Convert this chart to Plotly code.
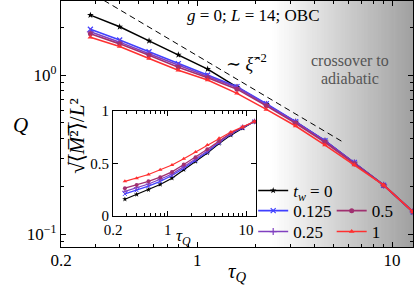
import numpy as np
import plotly.graph_objects as go

# ---------------- data ----------------
tau_Q = [0.283, 0.4, 0.566, 0.8, 1.131, 1.6, 2.263, 3.2, 4.525, 6.4, 9.05, 12.8]

labels = ["<i>t<sub>w</sub></i> = 0", "0.125", "0.25", "0.5", "1"]
colors = ["#000000", "#4040ff", "#8040c0", "#a03070", "#ff3030"]
symbols = ["star", "x-thin-open", "cross-thin-open", "circle", "triangle-up"]

Q_tw0 = [2.38, 2.01, 1.64, 1.34, 1.09, 0.84, 0.657, 0.508, 0.386, 0.281, 0.203, 0.138]
Q_tw0125 = [1.94, 1.66, 1.40, 1.18, 1.00, 0.845, 0.66, 0.51, 0.387, 0.282, 0.203, 0.138]
Q_tw025 = [1.87, 1.61, 1.36, 1.15, 0.98, 0.835, 0.652, 0.505, 0.384, 0.280, 0.203, 0.138]
Q_tw05 = [1.82, 1.57, 1.33, 1.12, 0.96, 0.815, 0.640, 0.497, 0.378, 0.277, 0.203, 0.138]
Q_tw1 = [1.73, 1.51, 1.27, 1.07, 0.93, 0.767, 0.608, 0.478, 0.363, 0.272, 0.203, 0.138]

M_tw0 = [0.16, 0.205, 0.25, 0.30, 0.36, 0.44, 0.52, 0.60, 0.69, 0.77, 0.835, 0.90]
M_tw0125 = [0.21, 0.245, 0.285, 0.33, 0.385, 0.455, 0.53, 0.61, 0.70, 0.78, 0.84, 0.90]
M_tw025 = [0.235, 0.27, 0.305, 0.35, 0.40, 0.47, 0.545, 0.62, 0.705, 0.785, 0.845, 0.90]
M_tw05 = [0.265, 0.295, 0.33, 0.37, 0.42, 0.49, 0.56, 0.635, 0.715, 0.79, 0.845, 0.90]
M_tw1 = [0.33, 0.36, 0.395, 0.44, 0.485, 0.545, 0.61, 0.675, 0.74, 0.80, 0.85, 0.90]

guide_tau = [0.30, 5.6]
guide_Q = [3.17, 0.379]

main_xtickvals = [0.2, 1, 10]
main_xticktext = ["0.2", "1", "10"]
main_ytickvals = [0.1, 1]
main_yticktext = ["10<sup>−1</sup>", "10<sup>0</sup>"]
inset_xtickvals = [0.2, 1, 10]
inset_xticktext = ["0.2", "1", "10"]
inset_ytickvals = [0, 0.5, 1]
inset_yticktext = ["0", "0.5", "1"]

Q_series = [Q_tw0, Q_tw0125, Q_tw025, Q_tw05, Q_tw1]
M_series = [M_tw0, M_tw0125, M_tw025, M_tw05, M_tw1]

FONT = "'Liberation Serif', 'DejaVu Serif', serif"

# legend placement: one legend per entry (column x, row centre y in paper units)
legend_names = ["legend", "legend2", "legend3", "legend4", "legend5"]
legend_pos = [(0.546, 0.228), (0.546, 0.146), (0.546, 0.061), (0.769, 0.146), (0.769, 0.061)]

# ---------------- figure ----------------
fig = go.Figure()

fig.add_trace(go.Scatter(x=guide_tau, y=guide_Q, mode="lines",
                         line=dict(color="black", width=1, dash="6px,4px"),
                         showlegend=False, xaxis="x", yaxis="y"))

for i in range(5):
    fig.add_trace(go.Scatter(
        x=tau_Q, y=Q_series[i], mode="lines+markers", name=labels[i],
        line=dict(color=colors[i], width=1.6),
        marker=dict(symbol=symbols[i], size=5, color=colors[i],
                    line=dict(color=colors[i], width=1.2 if i in (1, 2) else 0)),
        legend=legend_names[i],
        xaxis="x", yaxis="y"))

for i in range(5):
    fig.add_trace(go.Scatter(
        x=tau_Q, y=M_series[i], mode="lines+markers", showlegend=False,
        line=dict(color=colors[i], width=1.2),
        marker=dict(symbol=symbols[i], size=4, color=colors[i],
                    line=dict(color=colors[i], width=1 if i in (1, 2) else 0)),
        xaxis="x2", yaxis="y2"))

# gradient background ("crossover to adiabatic")
n_strips = 60
g0, g1 = 0.60, 1.0
for k in range(n_strips):
    f = (k + 0.5) / n_strips
    c = int(round(255 - f * (255 - 160)))
    fig.add_shape(type="rect", xref="paper", yref="paper",
                  x0=g0 + (g1 - g0) * k / n_strips, x1=g0 + (g1 - g0) * (k + 1) / n_strips + 0.002,
                  y0=0, y1=1, fillcolor=f"rgb({c},{c},{c})", line=dict(width=0), layer="below")

minor_log = [v * 10 ** e for e in (-2, -1, 0, 1) for v in range(2, 10)]

axis_base = dict(showline=True, linecolor="black", linewidth=1.3, mirror="allticks",
                 ticks="inside", ticklen=5, tickcolor="black", showgrid=False, zeroline=False,
                 automargin=False)

layout_legends = {}
for name, (lx, ly) in zip(legend_names, legend_pos):
    layout_legends[name] = dict(x=lx, y=ly, xanchor="left", yanchor="middle",
                                bgcolor="rgba(0,0,0,0)",
                                font=dict(family=FONT, size=17, color="black"))

fig.update_layout(
    width=416, height=287,
    margin=dict(l=61, r=3, t=1, b=40, autoexpand=False),
    plot_bgcolor="white", paper_bgcolor="white",
    xaxis=dict(type="log", range=[np.log10(0.2), np.log10(12.8)], domain=[0, 1],
               tickvals=main_xtickvals, ticktext=main_xticktext, ticklabelstandoff=-3,
               minor=dict(tickvals=minor_log, ticks="inside", ticklen=3, tickcolor="black"),
               tickfont=dict(family=FONT, size=17, color="black"), **axis_base),
    yaxis=dict(type="log", range=[np.log10(0.083), np.log10(2.92)], domain=[0, 1],
               tickvals=main_ytickvals, ticktext=main_yticktext,
               minor=dict(tickvals=minor_log, ticks="inside", ticklen=3, tickcolor="black"),
               tickfont=dict(family=FONT, size=17, color="black"), **axis_base),
    xaxis2=dict(type="log", range=[np.log10(0.2), np.log10(13.4)], domain=[0.148, 0.554],
                anchor="y2", tickvals=inset_xtickvals, ticktext=inset_xticktext,
                minor=dict(tickvals=minor_log, ticks="inside", ticklen=3, tickcolor="black"),
                tickfont=dict(family=FONT, size=15, color="black"), **axis_base),
    yaxis2=dict(range=[0, 1], domain=[0.126, 0.553], anchor="x2",
                tickvals=inset_ytickvals, ticktext=inset_yticktext,
                tickfont=dict(family=FONT, size=15, color="black"), **axis_base),
    showlegend=True,
    **layout_legends,
)

ann = [
    dict(text="<i>g</i> = 0; <i>L</i> = 14; OBC", x=0.548, y=0.943, size=17, color="black"),
    dict(text="∼ <i>ξ̂</i><sup>−2</sup>", x=0.528, y=0.752, size=18, color="black"),
    dict(text="crossover to", x=0.821, y=0.760, size=16, color="#555555"),
    dict(text="adiabatic", x=0.821, y=0.683, size=16, color="#555555"),
    dict(text="<i>Q</i>", x=-0.116, y=0.496, size=21, color="black"),
    dict(text="<i>τ<sub>Q</sub></i>", x=0.5, y=-0.10, size=21, color="black"),
    dict(text="<i>τ<sub>Q</sub></i>", x=0.347, y=0.041, size=17, color="black"),
]
for a in ann:
    fig.add_annotation(text=a["text"], x=a["x"], y=a["y"], xref="paper", yref="paper",
                       showarrow=False, xanchor="center", yanchor="middle",
                       font=dict(family=FONT, size=a["size"], color=a["color"]))

fig.add_annotation(text="√⟨̅<i>M̅</i>²̅⟩̅/<i>L</i>²", x=0.047, y=0.45, xref="paper", yref="paper",
                   showarrow=False, textangle=-90, xanchor="center", yanchor="middle",
                   font=dict(family=FONT, size=21, color="black"))

fig.write_html("out.html", config={"displayModeBar": False},
               post_script="document.body.style.margin='0';")
